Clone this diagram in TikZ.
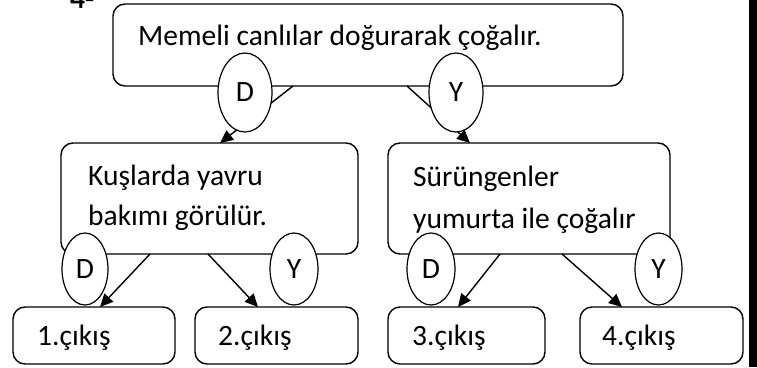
\documentclass[tikz,border=0pt]{standalone}
\usepackage{fontspec}
\setmainfont{Carlito}
\usetikzlibrary{arrows.meta,shapes.geometric}
\begin{document}
\begin{tikzpicture}[x=1pt,y=-1pt,
  box/.style={draw, line width=1.4pt, rounded corners=12pt, inner sep=0pt, outer sep=0pt},
  oval/.style={draw, fill=white, ellipse, line width=1.2pt, inner sep=0pt, outer sep=0pt, font=\fontsize{29.5}{34}\selectfont},
  lbl/.style={anchor=base west, inner sep=0pt, font=\fontsize{29.5}{34}\selectfont},
  arr/.style={-{Triangle[length=13pt,width=12pt]}, line width=1.4pt}]
\useasboundingbox (0,0) rectangle (757,367);
\clip (0,0) rectangle (757,367);
\fill (749,0) rectangle (757,367);
\node[font=\bfseries\fontsize{29.5}{34}\selectfont, anchor=base west, inner sep=0pt] (num) at (70,8) {4-};
% boxes
\node[box, minimum width=510pt, minimum height=82pt] (top) at (368,45) {};
\node[box, minimum width=297pt, minimum height=111pt] (ml) at (209.5,198.5) {};
\node[box, minimum width=282pt, minimum height=111pt] (mr) at (529,198.5) {};
\node[box, minimum width=162pt, minimum height=57pt] (b1) at (94,335.5) {};
\node[box, minimum width=163pt, minimum height=57pt] (b2) at (276.5,335.5) {};
\node[box, minimum width=157pt, minimum height=57pt] (b3) at (466.5,335.5) {};
\node[box, minimum width=163pt, minimum height=57pt] (b4) at (661.5,335.5) {};
% texts
\node[lbl] (t0) at (138,45) {Memeli canlılar doğurarak çoğalır.};
\node[lbl] (t1) at (88,185) {Kuşlarda yavru};
\node[lbl] (t2) at (88,225) {bakımı görülür.};
\node[lbl] (t3) at (413,186) {Sürüngenler};
\node[lbl] (t4) at (413,228) {yumurta ile çoğalır};
\node[lbl] (t5) at (37,345) {1.çıkış};
\node[lbl] (t6) at (218,345) {2.çıkış};
\node[lbl] (t7) at (412,345) {3.çıkış};
\node[lbl] (t8) at (602,345) {4.çıkış};
% top arrows (under the ovals)
\draw[arr] ([xshift=-75pt]top.south) -- ([xshift=10.5pt]ml.north);
\draw[arr] ([xshift=39pt]top.south) -- ([xshift=-59pt]mr.north);
% ovals
\node[oval, minimum width=54pt, minimum height=79pt] (d0) at (245,92.5) {D};
\node[oval, minimum width=54pt, minimum height=79pt] (y0) at (456,92.5) {Y};
\node[oval, minimum width=46pt, minimum height=72pt] (d1) at (85,269) {D};
\node[oval, minimum width=48pt, minimum height=72pt] (y1) at (294,269) {Y};
\node[oval, minimum width=48pt, minimum height=72pt] (d2) at (431,269) {D};
\node[oval, minimum width=47pt, minimum height=72pt] (y2) at (658.5,269) {Y};
% bottom arrows
\draw[arr] ([xshift=-59.5pt]ml.south) -- ([xshift=6pt]b1.north);
\draw[arr] ([xshift=-1.5pt]ml.south) -- ([xshift=-18.5pt]b2.north);
\draw[arr] ([xshift=-29pt]mr.south) -- ([xshift=-8.5pt]b3.north);
\draw[arr] ([xshift=33pt]mr.south) -- ([xshift=-39.5pt]b4.north);
\end{tikzpicture}
\end{document}
